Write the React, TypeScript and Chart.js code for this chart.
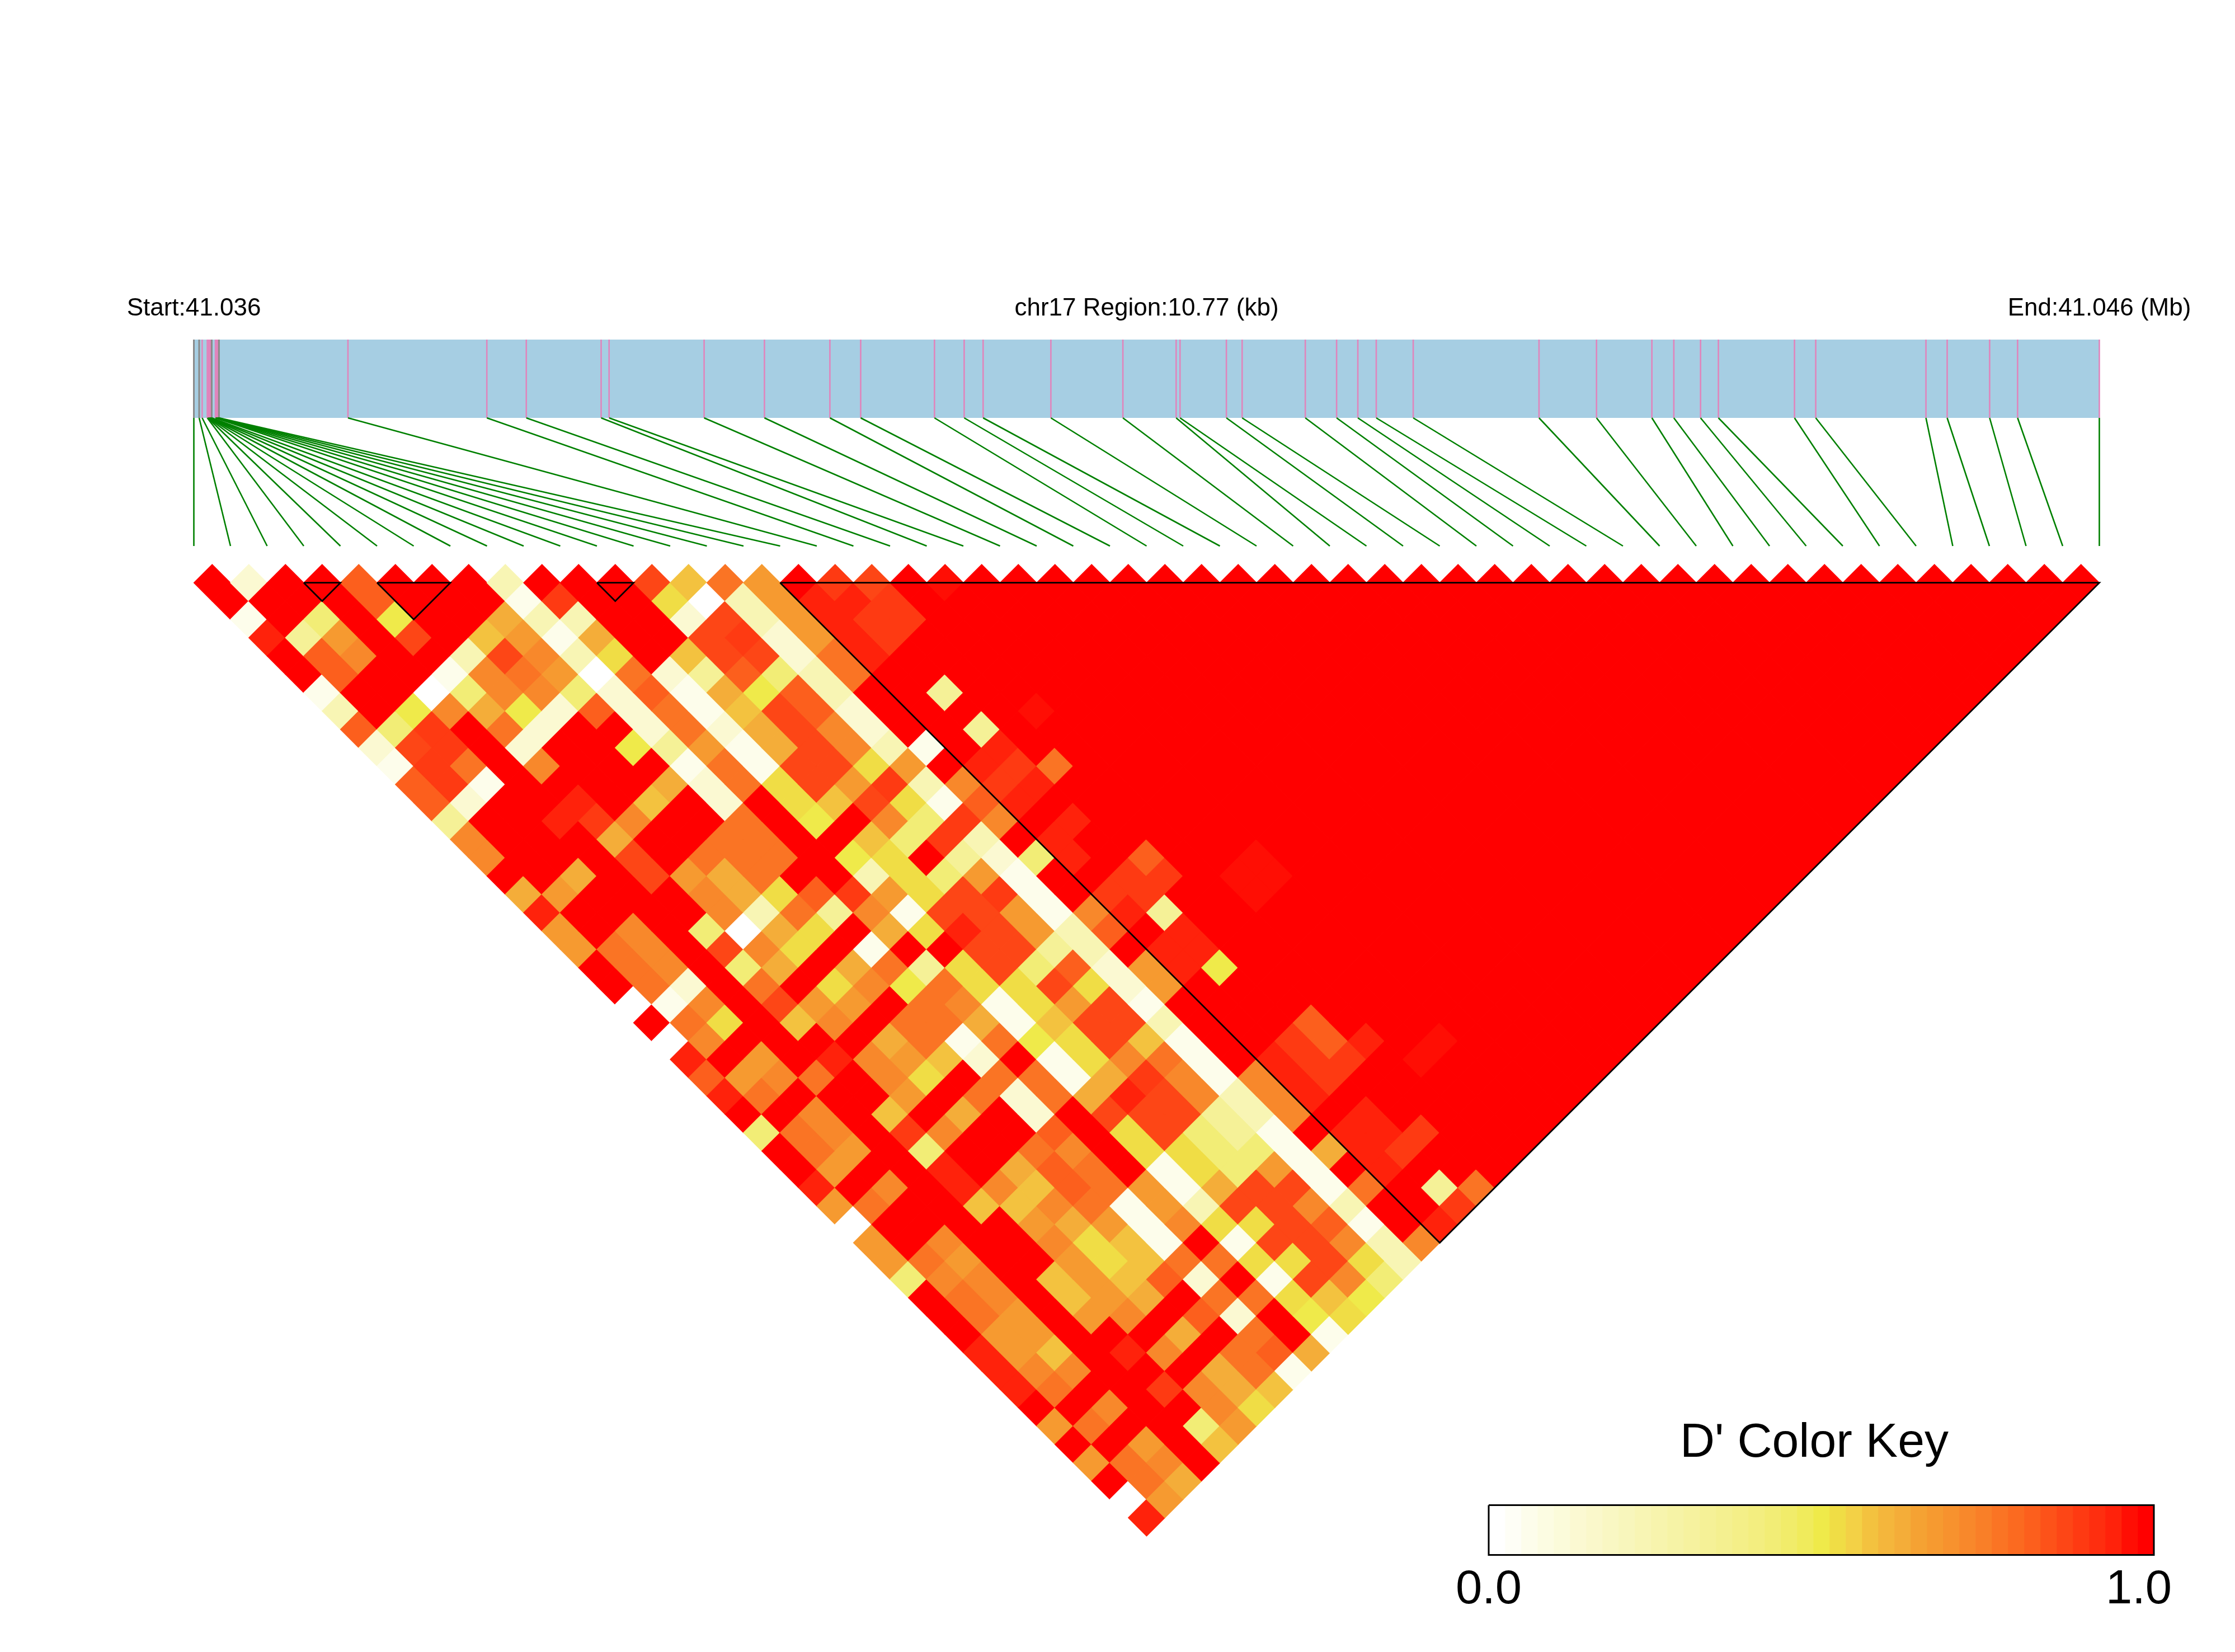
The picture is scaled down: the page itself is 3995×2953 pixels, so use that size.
import React, { useEffect, useRef } from "react";
import { Chart, registerables } from "chart.js";

Chart.register(...registerables);

// D' colour key, 41 steps from 0.0 to 1.0
const colorKey = [
  "#FFFFFF", "#FEFEF6", "#FDFDEB", "#FCFCE2", "#FBFBDA", "#FBF9D2", "#FAF8CB", "#F9F7C3", "#F8F6BC", "#F8F5B4",
  "#F7F4AD", "#F6F3A6", "#F6F29F", "#F5F197", "#F4F090", "#F4EF88", "#F3EE80", "#F2ED76", "#F1EC6A", "#F0EB5C",
  "#EFEA4A", "#F0DD45", "#F3D146", "#F3C23F", "#F4B63C", "#F4AD39", "#F5A233", "#F69A30", "#F7922E", "#F8882B",
  "#F97F28", "#FA7424", "#FB6A20", "#FC5F1D", "#FD5219", "#FD4616", "#FE3A12", "#FE2E0F", "#FF220B", "#FF0E04",
  "#FF0000",
];

// one letter per D' reading, as a step of the key
const dPrimeSteps: Record<string, number> = {
  R: 40, q: 39, r: 38, s: 36, D: 35, E: 33, F: 31, O: 29, P: 27, Q: 25,
  G: 23, H: 21, Y: 20, y: 17, x: 13, L: 9, l: 5, W: 2, w: 0,
};

// D' of SNP i with SNP i+1, i+2, ...
const dPrimeBySnp = [
  "RRWrRRWLElWEExOORQrPPRRwRwrErRyRRrPwPPyRRRrrrRPRPRwr",
  "lRRxEERRyDsslRRRRPRRFFFWFORPFRFFPRFRRFOFFPPOFRFRFFP",
  "RRyPORRYssFWRRRRQRROOOlOHRPOROOPRORROPOOPPGORORPOQ",
  "RRRRRRwORRRRRrRRRRRRRRRRRRRFRRRRRRRRRRRRRRRRRRRRR",
  "EEYDRWyQFlORrsQDDRRyDyFDGRrRRGsyrrGRRRGGPRrRsRyG",
  "RRRRLOOYlRRRRORRPOOwOQRPOROOPRORROGPOPPPOROROOP",
  "RRRGDFOlRRRRGRRFQQLQHRHPRQPHRQRRQGOQHHGQRQRQQH",
  "RRQPOPyERYRQRRFFFHFHRQORFFGRFRRFEEFPGGERERFFG",
  "LWLWLwlllxWllFFFRExRWFYFFWlFllEOFFWWWFlFlFEW",
  "RsLQHFEFFPFFRRRRRsOQRxFOQFRFFRRRRPPORFRFRRQ",
  "RRRRRlWWlWWHHYRYLPWHRHHWWYWWQDHHWWLHWHWHYW",
  "RRRRGxQGQQDDGRGHHHDrDDHHGHHQrDDHHQDHDHDGH",
  "DHlDDEYDDDDPDOyRyDDDDyDPDDOsDDyyyDDDDDOY",
  "GwDsDyEEOOHsHysxPsPPxEHDDGFOOxxyPDOEOHy",
  "FLLllLLllLPLWsLlWWWLLllWLWWWLLWWWWLWLL",
  "PPPPFFRRRWROEORyRROERPPRRRROOORQRFRRO",
  "RrrrrRRRRRrsrRrrRsrRrrRRRRrrrRrrrRRr",
  "srssRRxRxrsrRrRRssxrrYRRRsssRrrsRxs",
  "DssRRRRRRRFRRRREsRRRRRRREEsRRRsRRF",
  "RRRRRRRqRRRRRRRRRRRRRRRRRrRRRRRRR",
  "qRRRRRRRRRRRRRRRqqRRRRRRRRqRRRRR",
  "RRRRRRRRRRRRRRRqqRRRRRRRRqRRRRR",
  "RRRRRRRRRRRRRRRRRRRRRRRRRRRRRR",
  "RRRRRRRRRRRRRRRRRRRRRRRRRRRRR",
  "RRRRRRRRRRRRRRRRRRRRRRRRRRRR",
  "RRRRRRRRRRRRRRRRRRRRRRRRRRR",
  "RRRRRRRRRRRRRRRRRRRRRRRRRR",
  "RRRRRRRRRRRRRRRRRRRRRRRRR",
  "RRRRRRRRRRRRRRRRRRRRRRRR",
  "RRRRRRRRRRRRRRRRRRRRRRR",
  "RRRRRRRRRRRRRRRRRRRRRR",
  "RRRRRRRRRRRRRRRRRRRRR",
  "RRRRRRRRRRRRRRRRRRRR",
  "RRRRRRRRRRRRRRRRRRR",
  "RRRRRRRRRRRRRRRRRR",
  "RRRRRRRRRRRRRRRRR",
  "RRRRRRRRRRRRRRRR",
  "RRRRRRRRRRRRRRR",
  "RRRRRRRRRRRRRR",
  "RRRRRRRRRRRRR",
  "RRRRRRRRRRRR",
  "RRRRRRRRRRR",
  "RRRRRRRRRR",
  "RRRRRRRRR",
  "RRRRRRRR",
  "RRRRRRR",
  "RRRRRR",
  "RRRRR",
  "RRRR",
  "RRR",
  "RR",
  "R",
];

// SNP positions in kb from the region start
const snpPositionsKb = [
  0, 0.03, 0.047, 0.076, 0.079, 0.082, 0.085, 0.088, 0.092, 0.096, 0.101, 0.122, 0.125, 0.129, 0.133, 0.137, 0.142,
  0.871, 1.656, 1.879, 2.302, 2.347, 2.884, 3.225, 3.595, 3.769, 4.186, 4.354, 4.461, 4.844, 5.251, 5.552, 5.574,
  5.836, 5.925, 6.282, 6.459, 6.579, 6.683, 6.892, 7.603, 7.928, 8.241, 8.365, 8.516, 8.617, 9.047, 9.167, 9.79,
  9.91, 10.15, 10.308, 10.77,
];
const greySnps = [0, 1, 9, 10, 15, 16];
const regionKb = 10.77;

// LD blocks as first and last SNP
const ldBlocks = [
  [3, 4],
  [5, 7],
  [11, 12],
  [16, 52],
];

const startLabel = "Start:41.036";
const regionLabel = "chr17 Region:10.77 (kb)";
const endLabel = "End:41.046 (Mb)";
const keyTitle = "D' Color Key";
const keyLabels = ["0.0", "1.0"];

// layout of the page, in pixels
const W = 3995;
const H = 2953;
const LEFT = 346.5;
const CELL = 65.5;
const TOP = 1041.7;
const ROW = 32.77;
const xOf = (px: number) => (px - LEFT) / CELL;
const yOf = (px: number) => 1 + (px - TOP) / ROW;
const SNP_COUNT = 53;
const BAND_TOP = yOf(607);
const BAND_BOTTOM = yOf(747);
const FAN_END = yOf(976);
const KEY_L = xOf(2661);
const KEY_R = xOf(3850);
const KEY_T = yOf(2690.5);
const KEY_B = yOf(2779.5);

const segment = (points: { x: number; y: number }[], color: string, width: number, order: number) => ({
  type: "scatter" as const,
  data: points,
  showLine: true,
  borderColor: color,
  borderWidth: width,
  pointRadius: 0,
  fill: false,
  tension: 0,
  order,
  borderCapStyle: "butt" as const,
  borderJoinStyle: "miter" as const,
});

const textPlugin = {
  id: "pageText",
  afterDraw(chart: any) {
    const ctx = chart.ctx;
    const x = chart.scales.x;
    const put = (s: string, px: number, py: number, size: number) => {
      ctx.font = `${size}px "Liberation Sans"`;
      ctx.fillText(s, px, py);
    };
    ctx.save();
    ctx.fillStyle = "#000";
    ctx.textAlign = "center";
    ctx.textBaseline = "alphabetic";
    put(startLabel, x.getPixelForValue(0), 564, 44);
    put(regionLabel, x.getPixelForValue(26), 564, 44);
    put(endLabel, x.getPixelForValue(52), 564, 44);
    put(keyTitle, 3243, 2604, 86);
    put(keyLabels[0], x.getPixelForValue(KEY_L), 2866, 85);
    put(keyLabels[1], 3823, 2866, 85);
    ctx.restore();
  },
};

export default function App() {
  const ref = useRef<HTMLCanvasElement>(null);
  useEffect(() => {
    const cells: { x: number; y: number }[] = [];
    const colors: string[] = [];
    dPrimeBySnp.forEach((row, i) => {
      row.split("").forEach((c, k) => {
        const d = k + 1;
        cells.push({ x: i + d / 2, y: d });
        colors.push(colorKey[dPrimeSteps[c]]);
      });
    });

    const snpX = snpPositionsKb.map((kb) => (kb / regionKb) * (SNP_COUNT - 1));
    const datasets: any[] = [];

    datasets.push({
      type: "scatter",
      data: cells,
      pointStyle: "rectRot",
      pointRadius: ROW,
      pointBackgroundColor: colors,
      pointBorderColor: colors,
      pointBorderWidth: 1.3,
      showLine: false,
      order: 20,
    });

    datasets.push({
      ...segment(
        [
          { x: 0, y: (BAND_TOP + BAND_BOTTOM) / 2 },
          { x: SNP_COUNT - 1, y: (BAND_TOP + BAND_BOTTOM) / 2 },
        ],
        "#A6CEE3",
        140,
        30
      ),
    });

    snpX.forEach((x, k) => {
      const grey = greySnps.includes(k);
      datasets.push(
        segment(
          [
            { x, y: BAND_TOP },
            { x, y: BAND_BOTTOM },
          ],
          grey ? "#8A8A8A" : "#E085BC",
          grey ? 3 : 2.6,
          grey ? 26 : 25
        )
      );
      datasets.push(
        segment(
          [
            { x, y: BAND_BOTTOM },
            { x: k, y: FAN_END },
          ],
          "#008000",
          2.6,
          15
        )
      );
    });

    ldBlocks.forEach(([a, b]) => {
      datasets.push(
        segment(
          [
            { x: a, y: 1 },
            { x: b, y: 1 },
            { x: (a + b) / 2, y: 1 + (b - a) },
            { x: a, y: 1 },
          ],
          "#000000",
          2.8,
          5
        )
      );
    });

    const stepW = (KEY_R - KEY_L) / colorKey.length;
    colorKey.forEach((c, k) => {
      datasets.push(
        segment(
          [
            { x: KEY_L + stepW * k, y: (KEY_T + KEY_B) / 2 },
            { x: KEY_L + stepW * (k + 1) + 0.005, y: (KEY_T + KEY_B) / 2 },
          ],
          c,
          89,
          12
        )
      );
    });
    datasets.push(
      segment(
        [
          { x: KEY_L, y: KEY_T },
          { x: KEY_R, y: KEY_T },
          { x: KEY_R, y: KEY_B },
          { x: KEY_L, y: KEY_B },
          { x: KEY_L, y: KEY_T },
        ],
        "#000000",
        3,
        4
      )
    );

    const chart = new Chart(ref.current as HTMLCanvasElement, {
      type: "scatter",
      data: { datasets },
      options: {
        animation: false,
        responsive: false,
        devicePixelRatio: 1,
        layout: { padding: 0, autoPadding: false },
        events: [],
        plugins: { legend: { display: false }, tooltip: { enabled: false }, title: { display: false } },
        scales: {
          x: { type: "linear", display: false, min: xOf(0), max: xOf(W) },
          y: { type: "linear", display: false, reverse: true, min: yOf(0), max: yOf(H) },
        },
      },
      plugins: [textPlugin],
    } as any);
    return () => chart.destroy();
  }, []);

  return (
    <div style={{ position: "absolute", left: 0, top: 0, width: W, height: H, background: "#fff" }}>
      <canvas ref={ref} width={W} height={H} style={{ display: "block", width: W, height: H }} />
    </div>
  );
}
